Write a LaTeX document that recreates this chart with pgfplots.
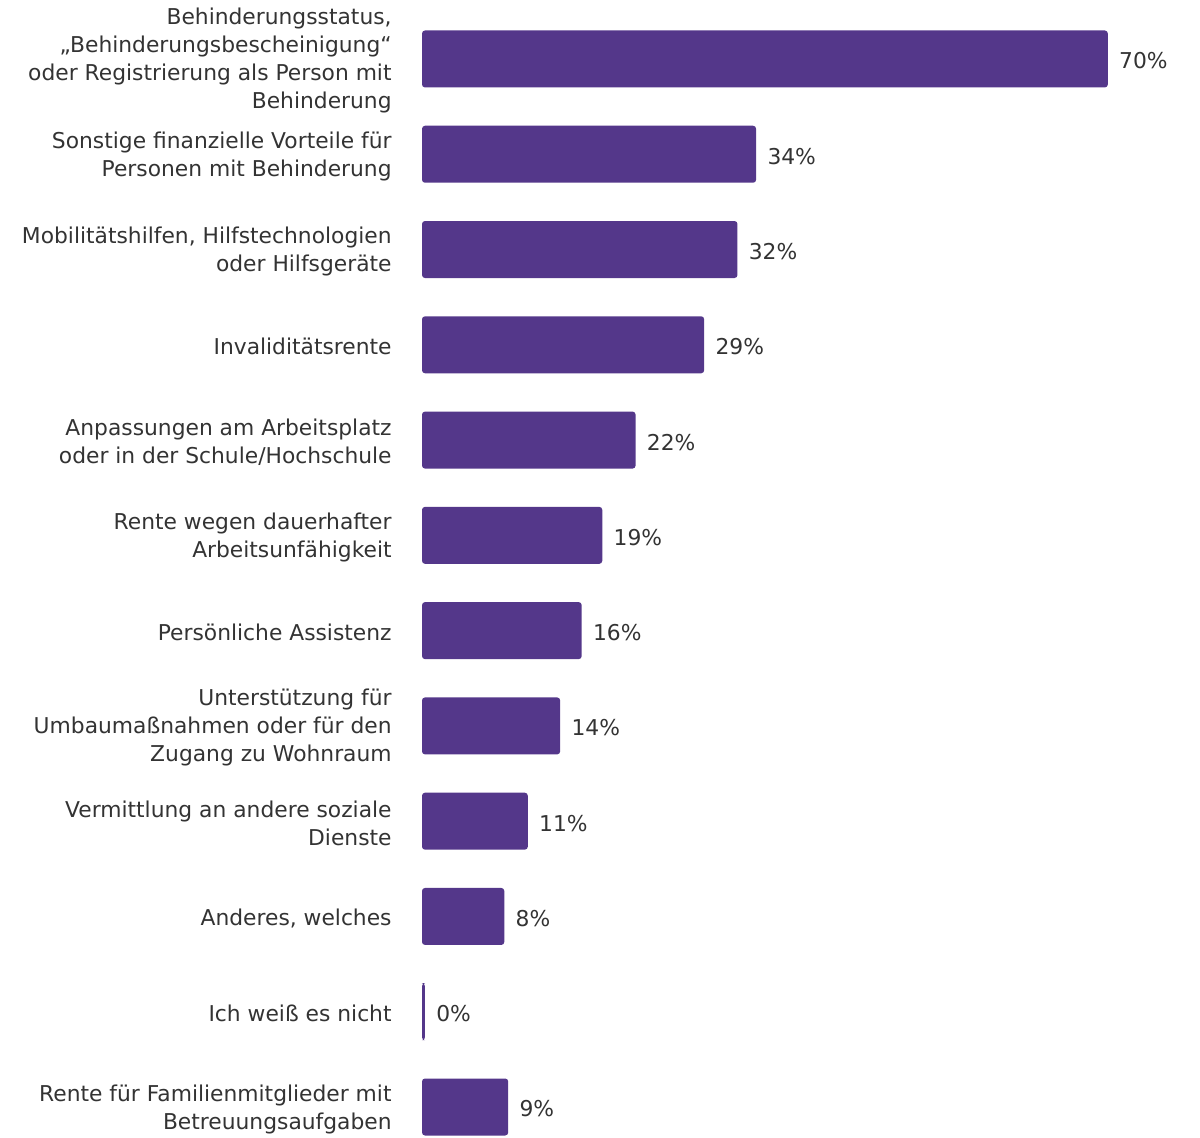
\documentclass[border=0pt]{standalone}
\usepackage{fontspec}
\setmainfont{DejaVu Sans}
\usepackage{pgfplots}
\pgfplotsset{compat=1.18}
\usepackage{pgfplotstable}

\definecolor{barpurple}{RGB}{84,55,138}
\definecolor{txt}{RGB}{51,51,51}

% pos = row from top, val = bar length, pct = printed label
\pgfplotstableread{
pos val pct
0  70.0 70
1  34.1 34
2  32.2 32
3  28.8 29
4  21.8 22
5  18.4 19
6  16.3 16
7  14.1 14
8  10.8 11
9  8.4  8
10 0.3  0
11 8.8  9
}\shares

\begin{document}
\begin{tikzpicture}
\begin{axis}[
  name=ax,
  scale only axis,
  width=387pt, height=568.5pt,
  xbar, bar width=28.5pt,
  xmin=0, xmax=79,
  ymin=-0.619, ymax=11.315,
  y dir=reverse,
  axis line style={draw=none},
  major tick length=0pt,
  xtick=\empty,
  ytick={0,...,11},
  yticklabels={
    {Behinderungsstatus,\\„Behinderungsbescheinigung“\\oder Registrierung als Person mit\\Behinderung},
    {Sonstige finanzielle Vorteile für\\Personen mit Behinderung},
    {Mobilitätshilfen, Hilfstechnologien\\oder Hilfsgeräte},
    {Invaliditätsrente},
    {Anpassungen am Arbeitsplatz\\oder in der Schule/Hochschule},
    {Rente wegen dauerhafter\\Arbeitsunfähigkeit},
    {Persönliche Assistenz},
    {Unterstützung für\\Umbaumaßnahmen oder für den\\Zugang zu Wohnraum},
    {Vermittlung an andere soziale\\Dienste},
    {Anderes, welches},
    {Ich weiß es nicht},
    {Rente für Familienmitglieder mit\\Betreuungsaufgaben}
  },
  yticklabel style={align=right, anchor=east, inner sep=0pt,
    xshift=-15pt, yshift=-1pt,
    font=\fontsize{10.9}{14}\selectfont, text=txt},
  point meta=explicit,
  /pgf/number format/assume math mode=true,
  nodes near coords={\pgfmathprintnumber{\pgfplotspointmeta}\%},
  nodes near coords style={anchor=west, inner sep=0pt, xshift=5.5pt, yshift=-1pt,
    font=\fontsize{10.9}{14}\selectfont, text=txt},
  clip=false,
]
\addplot [fill=barpurple, draw=none, rounded corners=1.5pt]
  table [x=val, y=pos, meta=pct] {\shares};
\end{axis}
\pgfresetboundingbox
\path ([xshift=-211pt]ax.south west) rectangle ([xshift=2pt]ax.north east);
\end{tikzpicture}
\end{document}
